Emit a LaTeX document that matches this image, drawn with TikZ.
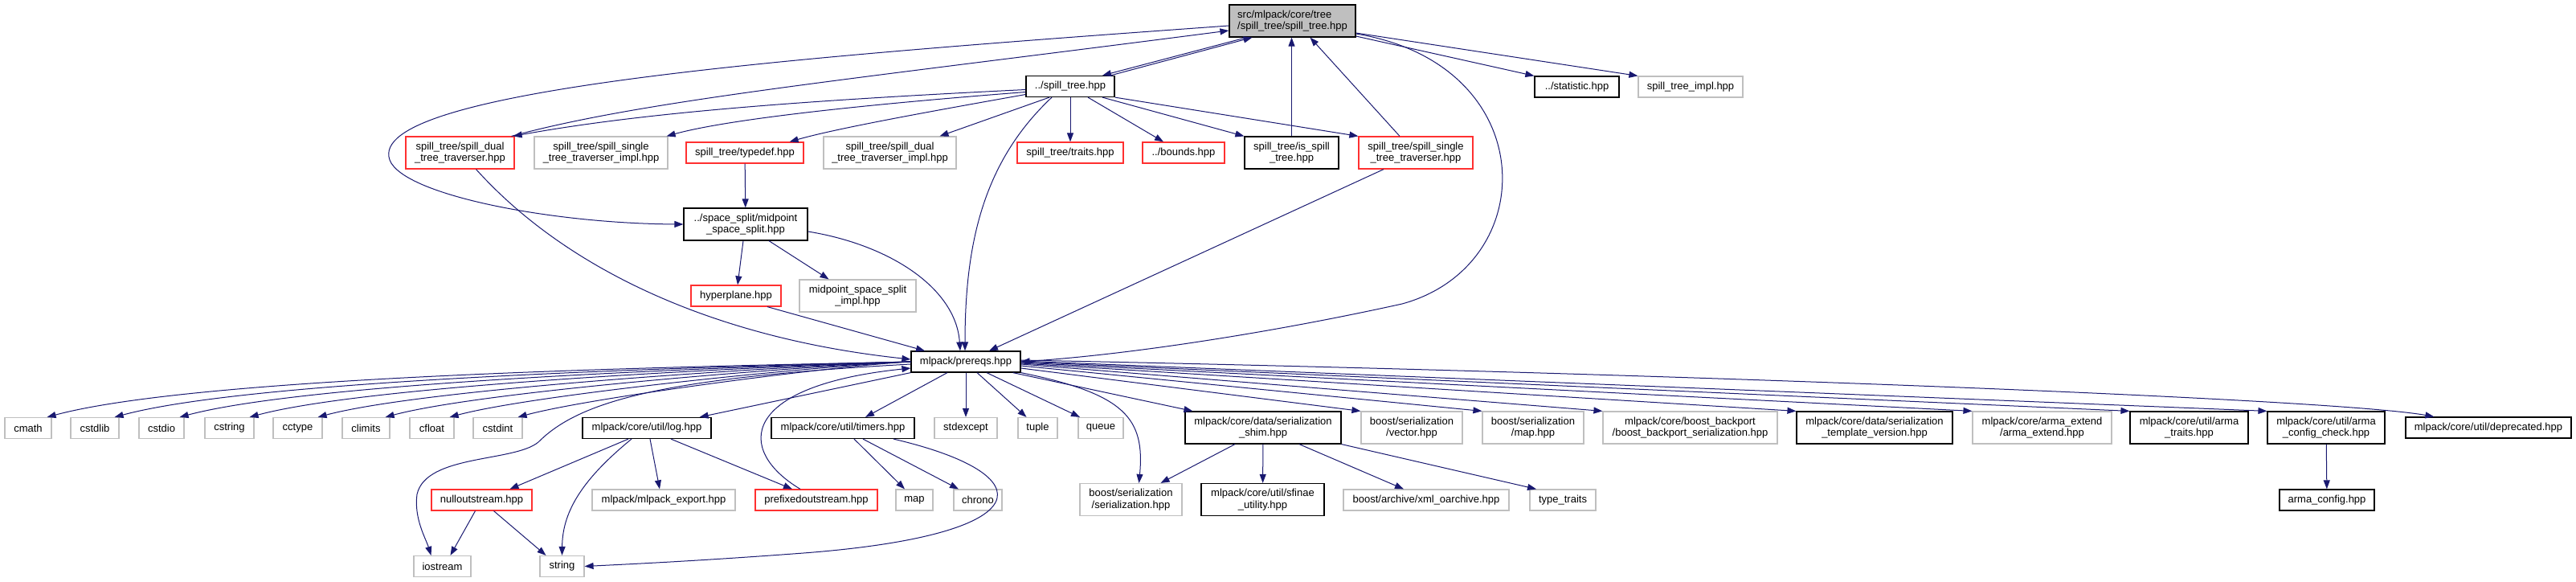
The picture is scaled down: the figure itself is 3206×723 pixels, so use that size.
\documentclass[tikz,border=0pt]{standalone}
\usepackage{fontspec}
\setmainfont{Liberation Sans}
\usetikzlibrary{arrows.meta}
\definecolor{mblue}{HTML}{191970}
\definecolor{lgray}{HTML}{BFBFBF}
\definecolor{lred}{HTML}{FF3030}
\begin{document}
\begin{tikzpicture}[x=1pt,y=1pt,
  box/.style={rectangle,fill=white,line width=1.2pt,inner sep=1pt,align=center,font=\fontsize{13}{14.5}\selectfont,minimum height=26pt},
  doc/.style={box,draw=black},
  trunc/.style={box,draw=lred},
  undoc/.style={box,draw=lgray},
  two/.style={minimum height=40pt},
  edge/.style={-{Triangle[length=11pt,width=8pt]},draw=mblue,line width=1pt}]
\useasboundingbox (0,0) rectangle (3206,-723);
% top rows
\node[doc,fill=lgray,two,align=left,minimum width=157] (root) at (1608.5,-26) {src/mlpack/core/tree\\/spill\_tree/spill\_tree.hpp};
\node[doc,minimum width=110] (sptree) at (1332,-107.5) {../spill\_tree.hpp};
\node[doc,minimum width=105] (statistic) at (1962.5,-108) {../statistic.hpp};
\node[undoc,minimum width=130] (impl) at (2104,-108) {spill\_tree\_impl.hpp};
\node[trunc,two,minimum width=135] (sdtrav) at (572.5,-190) {spill\_tree/spill\_dual\\\_tree\_traverser.hpp};
\node[undoc,two,minimum width=166] (ssimpl) at (748,-190) {spill\_tree/spill\_single\\\_tree\_traverser\_impl.hpp};
\node[trunc,minimum width=146] (typedef) at (927,-190) {spill\_tree/typedef.hpp};
\node[undoc,two,minimum width=165] (sdimpl) at (1107.5,-190) {spill\_tree/spill\_dual\\\_tree\_traverser\_impl.hpp};
\node[trunc,minimum width=132] (traits) at (1332,-190) {spill\_tree/traits.hpp};
\node[trunc,minimum width=102] (bounds) at (1473,-190) {../bounds.hpp};
\node[doc,two,minimum width=117] (isspill) at (1607.5,-190) {spill\_tree/is\_spill\\\_tree.hpp};
\node[trunc,two,minimum width=142] (sstrav) at (1762,-190) {spill\_tree/spill\_single\\\_tree\_traverser.hpp};
\node[doc,two,minimum width=154] (midpoint) at (928,-279) {../space\_split/midpoint\\\_space\_split.hpp};
\node[trunc,minimum width=112] (hyperplane) at (916,-368) {hyperplane.hpp};
\node[undoc,two,minimum width=145] (mpimpl) at (1067.5,-368) {midpoint\_space\_split\\\_impl.hpp};
\node[doc,minimum width=136] (prereqs) at (1202,-450) {mlpack/prereqs.hpp};
% headers row
\foreach \n/\x/\w in {cmath/35/58,cstdlib/118/60,cstdio/201/56,cstring/285.5/61,cctype/370.5/61,climits/455.5/59,cfloat/537.5/55,cstdint/619.5/61,stdexcept/1202/78,tuple/1291.5/49,queue/1370/56}
  \node[undoc,minimum width=\w] (\n) at (\x,-532.5) {\n};
\node[doc,minimum width=160] (log) at (805,-532.5) {mlpack/core/util/log.hpp};
\node[doc,minimum width=178] (timers) at (1049,-532.5) {mlpack/core/util/timers.hpp};
\node[doc,two,minimum width=194] (shim) at (1572,-532) {mlpack/core/data/serialization\\\_shim.hpp};
\node[undoc,two,minimum width=126] (vector) at (1757,-532) {boost/serialization\\/vector.hpp};
\node[undoc,two,minimum width=126] (maphpp) at (1908,-532) {boost/serialization\\/map.hpp};
\node[undoc,two,minimum width=217] (backport) at (2103.5,-532) {mlpack/core/boost\_backport\\/boost\_backport\_serialization.hpp};
\node[doc,two,minimum width=194] (templ) at (2333,-532) {mlpack/core/data/serialization\\\_template\_version.hpp};
\node[undoc,two,minimum width=173] (armaext) at (2541.5,-532) {mlpack/core/arma\_extend\\/arma\_extend.hpp};
\node[doc,two,minimum width=147] (armatraits) at (2724.5,-532) {mlpack/core/util/arma\\\_traits.hpp};
\node[doc,two,minimum width=146] (check) at (2895,-532) {mlpack/core/util/arma\\\_config\_check.hpp};
\node[doc,minimum width=206] (deprecated) at (3097,-532) {mlpack/core/util/deprecated.hpp};
% lower rows
\node[trunc,minimum width=125] (null) at (599.5,-622) {nulloutstream.hpp};
\node[undoc,minimum width=178] (export) at (826,-622) {mlpack/mlpack\_export.hpp};
\node[trunc,minimum width=152] (prefixed) at (1016,-622) {prefixedoutstream.hpp};
\node[undoc,minimum width=46] (map) at (1138,-622) {map};
\node[undoc,minimum width=60] (chrono) at (1217,-622) {chrono};
\node[undoc,two,minimum width=127] (bser) at (1407.5,-621.5) {boost/serialization\\/serialization.hpp};
\node[doc,two,minimum width=153] (sfinae) at (1571.5,-621.5) {mlpack/core/util/sfinae\\\_utility.hpp};
\node[undoc,minimum width=206] (xml) at (1775,-622) {boost/archive/xml\_oarchive.hpp};
\node[undoc,minimum width=82] (typetraits) at (1945,-622) {type\_traits};
\node[doc,minimum width=118] (armaconfig) at (2896,-622) {arma\_config.hpp};
\node[undoc,minimum width=71] (iostream) at (550.5,-704.5) {iostream};
\node[undoc,minimum width=55] (string) at (699.5,-704.5) {string};
% edges around the root
\draw[edge] ([xshift=-57pt]root.south) -- ([xshift=40pt]sptree.north);
\draw[edge] ([xshift=50pt]sptree.north) -- ([xshift=-50pt]root.south);
\draw[edge] ([yshift=-19pt]root.east) -- (statistic.north west);
\draw[edge] ([yshift=-15pt]root.east) -- (impl.north west);
\draw[edge] ([yshift=-16pt]root.east) .. controls (1920,-80) and (1920,-330) .. (1745,-378) .. controls (1600,-410) and (1420,-440) .. (prereqs.east);
\draw[edge] ([yshift=-6pt]root.west) .. controls (1000,-70) and (470,-110) .. (484,-195) .. controls (490,-240) and (680,-278) .. (midpoint.west);
\draw[edge] ([xshift=-4pt]sdtrav.north east) .. controls (800,-125) and (1050,-100) .. ([yshift=-12pt]root.west);
\draw[edge] (isspill.north) -- (isspill.north |- root.south);
\draw[edge] ([xshift=-20pt]sstrav.north) -- ([xshift=22pt]root.south);
% ../spill_tree.hpp
\draw[edge] ([yshift=-4pt]sptree.west) .. controls (1000,-125) and (800,-140) .. ([xshift=-2pt]sdtrav.north east);
\draw[edge] ([yshift=-7pt]sptree.west) .. controls (1050,-132) and (900,-150) .. ([xshift=-2pt]ssimpl.north east);
\draw[edge] ([yshift=-10pt]sptree.west) .. controls (1150,-140) and (1040,-160) .. ([xshift=-18pt]typedef.north east);
\draw[edge] ([xshift=-26pt]sptree.south) -- ([xshift=62pt]sdimpl.north);
\draw[edge] (sptree) -- (traits);
\draw[edge] ([xshift=22pt]sptree.south) -- ([xshift=-25pt]bounds.north);
\draw[edge] ([xshift=40pt]sptree.south) -- (isspill.north west);
\draw[edge] (sptree.south east) -- (sstrav.north west);
\draw[edge] ([xshift=-23pt]sptree.south) .. controls (1225,-200) and (1201,-300) .. ([xshift=-1pt]prereqs.north);
\draw[edge] ([xshift=-40pt]sstrav.south) -- ([xshift=29pt]prereqs.north);
\draw[edge] ([xshift=20pt]sdtrav.south) .. controls (700,-330) and (880,-420) .. ([yshift=3pt]prereqs.west);
% midpoint
\draw[edge] (typedef) -- (midpoint);
\draw[edge] ([xshift=-3pt]midpoint.south) -- ([xshift=2pt]hyperplane.north);
\draw[edge] ([xshift=29pt]midpoint.south) -- ([xshift=-36pt]mpimpl.north);
\draw[edge] ([yshift=-9pt]midpoint.east) .. controls (1110,-305) and (1190,-360) .. ([xshift=-7pt]prereqs.north);
\draw[edge] ([xshift=39pt]hyperplane.south) -- ([xshift=-51pt]prereqs.north);
% prereqs
\foreach \n/\ca/\cb/\cc in {cmath/923/262/464.5,cstdlib/940/330/468.5,cstdio/955/396/473,cstring/973/467/477,cctype/989/535/482,climits/1006/603/486,cfloat/1021/668/490,cstdint/1038/737/494}
  \draw[edge] (prereqs.west) .. controls (\ca,-455) and (\cb,-\cc) .. ([xshift=-6pt]\n.north east);
\draw[edge] ([yshift=-3pt]prereqs.west) .. controls (820,-470) and (720,-500) .. (670,-550) .. controls (640,-575) and (530,-565) .. (519,-615) .. controls (515,-645) and (530,-670) .. ([xshift=-14pt]iostream.north);
\draw[edge] (prereqs.south west) -- ([xshift=-15pt]log.north east);
\draw[edge] ([xshift=-23pt]prereqs.south) -- ([xshift=28pt]timers.north);
\draw[edge] (prereqs) -- (stdexcept);
\draw[edge] ([xshift=14pt]prereqs.south) -- ([xshift=-14pt]tuple.north);
\draw[edge] ([xshift=26pt]prereqs.south) -- ([xshift=-26pt]queue.north);
\draw[edge] (prereqs.south east) .. controls (1400,-490) and (1425,-520) .. ([xshift=10pt]bser.north);
\draw[edge] ([xshift=-10pt]prereqs.south east) -- ([xshift=10pt]shim.north west);
\foreach \n/\dy in {vector/-8,maphpp/-5,backport/-3,templ/-2,armaext/-1,armatraits/0,check/1}
  \draw[edge] ([yshift=\dy pt]prereqs.east) -- (\n.north west);
\draw[edge] ([yshift=2pt]prereqs.east) .. controls (2000,-462) and (2900,-495) .. ([xshift=36pt]deprecated.north west);
\draw[edge] ([xshift=-20pt]prefixed.north) .. controls (915,-560) and (920,-480) .. ([yshift=-8pt]prereqs.west);
% log and timers
\draw[edge] ([xshift=-23pt]log.south) -- ([xshift=35pt]null.north);
\draw[edge] ([xshift=-19pt]log.south) .. controls (720,-600) and (700,-640) .. (string.north);
\draw[edge] ([xshift=4pt]log.south) -- ([xshift=-5pt]export.north);
\draw[edge] ([xshift=30pt]log.south) -- ([xshift=-30pt]prefixed.north);
\draw[edge] ([xshift=-8pt]null.south) -- ([xshift=10pt]iostream.north);
\draw[edge] ([xshift=15pt]null.south) -- ([xshift=-20pt]string.north);
\draw[edge] ([xshift=14pt]timers.south) -- ([xshift=-12pt]map.north);
\draw[edge] ([xshift=25pt]timers.south) -- ([xshift=-24pt]chrono.north);
\draw[edge] ([xshift=63pt]timers.south) .. controls (1300,-590) and (1300,-665) .. (1000,-688) .. controls (880,-697) and (800,-701) .. (string.east);
% serialization shim
\draw[edge] ([xshift=-35pt]shim.south) -- ([xshift=37pt]bser.north);
\draw[edge] (shim) -- (sfinae);
\draw[edge] ([xshift=45pt]shim.south) -- ([xshift=-28pt]xml.north);
\draw[edge] (shim.south east) -- ([xshift=-33pt]typetraits.north);
\draw[edge] (check) -- (armaconfig);
\end{tikzpicture}
\end{document}
